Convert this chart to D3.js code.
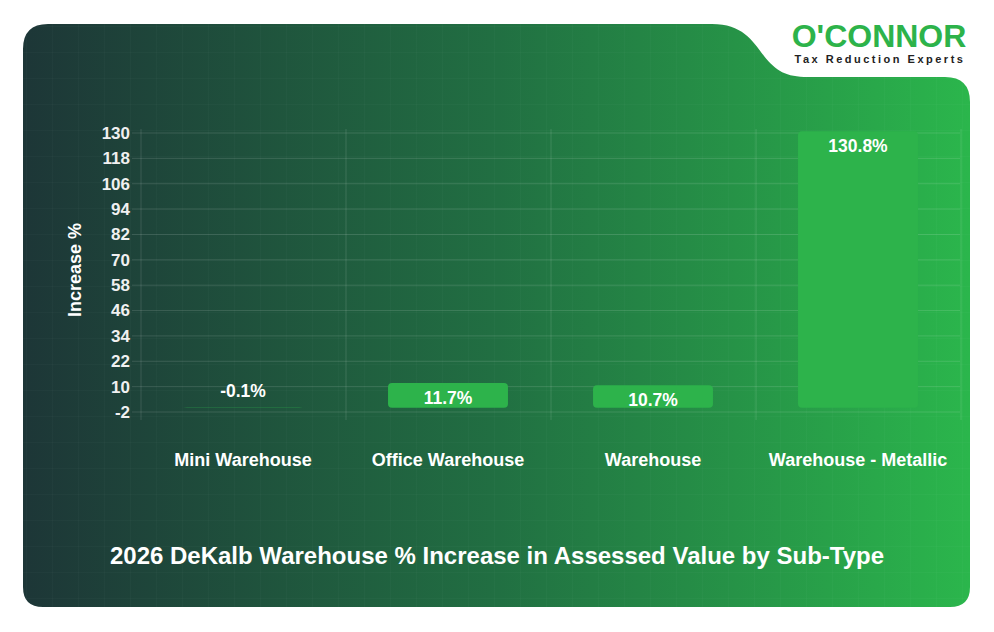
<!DOCTYPE html>
<html>
<head>
<meta charset="utf-8">
<script src="https://cdn.jsdelivr.net/npm/d3@7"></script>
<style>
  body { margin: 0; background: #fff; font-family: "Liberation Sans", Arial, sans-serif; }
  svg { display: block; }
</style>
</head>
<body>
<script>
var w = 994;
var h = 632;

// chart data
var categories = ["Mini Warehouse", "Office Warehouse", "Warehouse", "Warehouse - Metallic"];
var increases = [-0.1, 11.7, 10.7, 130.8];
var yTicks = [-2, 10, 22, 34, 46, 58, 70, 82, 94, 106, 118, 130];
var title = "2026 DeKalb Warehouse % Increase in Assessed Value by Sub-Type";

var svg = d3.select("body")
            .append("svg")
            .attr("width", w)
            .attr("height", h);

var defs = svg.append("defs");

// background gradient, dark teal to green
var grad = defs.append("linearGradient")
               .attr("id", "bg")
               .attr("x1", "0%").attr("x2", "100%")
               .attr("y1", "0%").attr("y2", "0%");
grad.append("stop").attr("offset", "0%").attr("stop-color", "#1d3637");
grad.append("stop").attr("offset", "50%").attr("stop-color", "#216f42");
grad.append("stop").attr("offset", "100%").attr("stop-color", "#2bb64c");

// faint square pattern on the card
var pat = defs.append("pattern")
              .attr("id", "grid")
              .attr("width", 26).attr("height", 26)
              .attr("patternUnits", "userSpaceOnUse");
pat.append("path")
   .attr("d", "M26 0 L0 0 L0 26")
   .attr("fill", "none")
   .attr("stroke", "rgba(255,255,255,0.035)")
   .attr("stroke-width", 1);

// card outline with the notch for the logo
var cardPath = "M48,24 L712,24 C742,24 752,40 764,56 C776,71 786,77 808,77 " +
               "L945,77 Q970,77 970,102 L970,587 Q970,607 950,607 " +
               "L43,607 Q23,607 23,587 L23,49 Q23,24 48,24 Z";

svg.append("path")
   .attr("d", cardPath)
   .attr("fill", "url(#bg)");
svg.append("path")
   .attr("d", cardPath)
   .attr("fill", "url(#grid)");

// logo
svg.append("text")
   .attr("x", 879)
   .attr("y", 47)
   .attr("text-anchor", "middle")
   .style("font-weight", "bold")
   .style("font-size", "32px")
   .style("fill", "#2db34a")
   .text("O'CONNOR");
svg.append("text")
   .attr("x", 880)
   .attr("y", 63)
   .attr("text-anchor", "middle")
   .style("font-size", "11px")
   .style("font-weight", "bold")
   .style("letter-spacing", "2.5px")
   .style("fill", "#222")
   .text("Tax Reduction Experts");

// plot area bounds
var plotLeft = 141, plotRight = 960, plotTop = 133, plotBottom = 412;

var xScale = d3.scaleBand()
               .domain(categories)
               .range([plotLeft, plotRight])
               .paddingInner(0.415)
               .paddingOuter(0.205);

var yScale = d3.scaleLinear()
               .domain([-2, 130])
               .range([plotBottom, plotTop]);

var step = xScale.step();
var gridColor = "rgba(255,255,255,0.13)";

// horizontal grid lines (extend left as tick marks)
svg.selectAll(".hgrid")
   .data(yTicks)
   .enter()
   .append("line")
   .attr("class", "hgrid")
   .attr("x1", plotLeft - 9)
   .attr("x2", plotRight)
   .attr("y1", function (d) { return yScale(d); })
   .attr("y2", function (d) { return yScale(d); })
   .attr("stroke", gridColor);

// vertical grid lines at band edges
var edges = d3.range(categories.length + 1).map(function (i) { return plotLeft + i * step; });
svg.selectAll(".vgrid")
   .data(edges)
   .enter()
   .append("line")
   .attr("class", "vgrid")
   .attr("x1", function (d) { return d; })
   .attr("x2", function (d) { return d; })
   .attr("y1", plotTop - 4)
   .attr("y2", plotBottom + 8)
   .attr("stroke", gridColor);

// y axis labels (plain hyphen for negatives)
var yAxis = d3.axisLeft(yScale)
              .tickValues(yTicks)
              .tickFormat(function (d) { return String(d); })
              .tickSize(0)
              .tickPadding(11);
var yG = svg.append("g")
            .attr("transform", "translate(" + plotLeft + ",0)")
            .call(yAxis);
yG.select(".domain").remove();
yG.selectAll("text")
  .style("font-family", "'Liberation Sans', Arial, sans-serif")
  .style("font-size", "17px")
  .style("font-weight", "bold")
  .style("fill", "#f0f0f0");

// y axis title
svg.append("text")
   .attr("transform", "translate(81,270) rotate(-90)")
   .attr("text-anchor", "middle")
   .style("font-size", "18px")
   .style("font-weight", "bold")
   .style("fill", "#fff")
   .text("Increase %");

// bars
svg.selectAll(".bar")
   .data(increases)
   .enter()
   .append("rect")
   .attr("class", "bar")
   .attr("x", function (d, i) { return xScale(categories[i]); })
   .attr("y", function (d) { return yScale(Math.max(d, 0)); })
   .attr("width", xScale.bandwidth())
   .attr("height", function (d) { return Math.abs(yScale(d) - yScale(0)); })
   .attr("rx", 4)
   .attr("fill", "#2db34b");

// value labels
svg.selectAll(".cText")
   .data(increases)
   .enter()
   .append("text")
   .attr("class", "cText")
   .attr("x", function (d, i) { return xScale(categories[i]) + xScale.bandwidth() / 2; })
   .attr("y", function (d) {
       return d < 0 ? yScale(0) - 11 : yScale(d) + 21;
   })
   .attr("text-anchor", "middle")
   .style("font-size", "17.5px")
   .style("font-weight", "bold")
   .style("fill", "#fff")
   .text(function (d) { return d.toFixed(1) + "%"; });

// category labels
var xAxis = d3.axisBottom(xScale)
              .tickSize(0)
              .tickPadding(0);
var xG = svg.append("g")
            .attr("transform", "translate(0,453)")
            .call(xAxis);
xG.select(".domain").remove();
xG.selectAll("text")
  .style("font-family", "'Liberation Sans', Arial, sans-serif")
  .style("font-size", "18px")
  .style("font-weight", "bold")
  .style("fill", "#fff");

// chart title
svg.append("text")
   .attr("x", 497)
   .attr("y", 564)
   .attr("text-anchor", "middle")
   .style("font-size", "24px")
   .style("font-weight", "bold")
   .style("fill", "#fff")
   .text(title);
</script>
</body>
</html>
